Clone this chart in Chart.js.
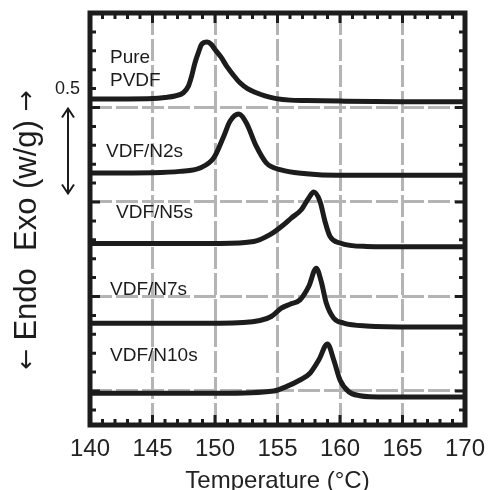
<!DOCTYPE html>
<html>
<head>
<meta charset="utf-8">
<script src="https://cdn.jsdelivr.net/npm/chart.js"></script>
<style>
  html, body { margin: 0; padding: 0; background: #fff; }
</style>
</head>
<body>
<canvas id="dscCanvas" width="488" height="490"></canvas>
<script>
// DSC heating curves, heat flow in W/g (stacked with offsets)
const pvdfTemp = [140, 143, 145, 146, 146.8, 147.47, 147.87, 148.13, 148.4, 148.67, 148.93, 149.38, 149.7, 150.0, 150.5, 150.93, 151.5, 152.0, 152.6, 153.3, 154.0, 154.9, 156, 157.3, 160, 165, 170];
const pvdfFlow = [1.545, 1.545, 1.547, 1.553, 1.561, 1.578, 1.613, 1.666, 1.737, 1.790, 1.834, 1.846, 1.834, 1.807, 1.765, 1.719, 1.669, 1.631, 1.600, 1.578, 1.561, 1.547, 1.539, 1.537, 1.534, 1.531, 1.531];

const n2sTemp = [140, 145, 147.2, 148.8, 149.9, 150.7, 151.2, 151.9, 152.5, 153.3, 154.1, 155.2, 157.3, 159.7, 165, 170];
const n2sFlow = [1.153, 1.155, 1.162, 1.180, 1.233, 1.348, 1.427, 1.465, 1.419, 1.295, 1.207, 1.171, 1.150, 1.141, 1.142, 1.142];

const n5sTemp = [140, 146, 150.4, 153.1, 154.4, 155.5, 156.1, 156.9, 157.5, 157.9, 158.4, 158.8, 159.2, 160.0, 162.1, 166, 170];
const n5sFlow = [0.781, 0.781, 0.781, 0.791, 0.827, 0.880, 0.915, 0.959, 1.021, 1.053, 1.003, 0.897, 0.818, 0.783, 0.765, 0.763, 0.763];

const n7sTemp = [140, 146, 150.4, 153.6, 154.5, 155.3, 156.0, 156.8, 157.5, 158.1, 158.5, 158.9, 159.5, 160.3, 162.1, 166, 170];
const n7sFlow = [0.359, 0.359, 0.359, 0.373, 0.394, 0.438, 0.459, 0.482, 0.553, 0.650, 0.579, 0.465, 0.385, 0.359, 0.344, 0.339, 0.339];

const n10sTemp = [140, 146, 150.4, 154.7, 155.7, 156.8, 157.6, 158.3, 159.0, 159.5, 160.0, 160.7, 161.6, 162.4, 166, 170];
const n10sFlow = [-0.012, -0.012, -0.012, 0.000, 0.023, 0.058, 0.094, 0.164, 0.249, 0.164, 0.058, -0.004, -0.025, -0.030, -0.032, -0.032];

const xTickValues = [140, 145, 150, 155, 160, 165, 170];
const yGridValues = [0, 0.5, 1.0, 1.5];

const sampleLabels = ['Pure', 'PVDF', 'VDF/N2s', 'VDF/N5s', 'VDF/N7s', 'VDF/N10s'];
const labelTemp = [141.6, 141.6, 141.28, 142.08, 141.6, 141.6];
const labelFlow = [1.738, 1.616, 1.240, 0.917, 0.509, 0.159];

function toPoints(t, f) {
  return t.map((v, i) => ({ x: v, y: f[i] }));
}

const ink = '#1c1c1c';
const gridGray = '#b4b4b4';
const sans = '"Liberation Sans", Arial, sans-serif';

// frame, inward ticks, labels and the scale arrow
const decorations = {
  id: 'decorations',
  afterDatasetsDraw(chart) {
    const ctx = chart.ctx;
    const a = chart.chartArea;
    const xs = chart.scales.x;
    const ys = chart.scales.y;
    ctx.save();
    ctx.strokeStyle = ink;
    ctx.lineWidth = 3;
    ctx.beginPath();
    for (let t = 141; t < 170; t++) {
      const px = xs.getPixelForValue(t);
      const len = (t % 5 === 0) ? 10 : 6;
      ctx.moveTo(px, a.bottom); ctx.lineTo(px, a.bottom - len);
      ctx.moveTo(px, a.top); ctx.lineTo(px, a.top + len);
    }
    for (let k = -1; k < 20; k++) {
      const v = k / 10;
      const py = ys.getPixelForValue(v);
      const len = (k % 5 === 0) ? 10 : 6;
      ctx.moveTo(a.left, py); ctx.lineTo(a.left + len, py);
      ctx.moveTo(a.right, py); ctx.lineTo(a.right - len, py);
    }
    ctx.stroke();
    ctx.lineWidth = 5;
    ctx.strokeRect(a.left, a.top, a.right - a.left, a.bottom - a.top);

    ctx.fillStyle = ink;
    ctx.font = '19px ' + sans;
    ctx.textAlign = 'left';
    ctx.textBaseline = 'alphabetic';
    for (let i = 0; i < sampleLabels.length; i++) {
      ctx.fillText(sampleLabels[i], xs.getPixelForValue(labelTemp[i]), ys.getPixelForValue(labelFlow[i]));
    }
    ctx.restore();
  },
  afterDraw(chart) {
    const ctx = chart.ctx;
    const a = chart.chartArea;
    const ys = chart.scales.y;
    ctx.save();
    ctx.fillStyle = ink;
    ctx.strokeStyle = ink;
    // 0.5 W/g scale bar
    const top = ys.getPixelForValue(1.5);
    const bot = ys.getPixelForValue(1.04);
    ctx.font = '18px ' + sans;
    ctx.textAlign = 'right';
    ctx.textBaseline = 'alphabetic';
    ctx.fillText('0.5', a.left - 10, top - 13);
    const ax = a.left - 22;
    ctx.lineWidth = 2;
    ctx.beginPath();
    ctx.moveTo(ax, top + 1); ctx.lineTo(ax, bot - 1);
    ctx.moveTo(ax - 6, top + 10); ctx.lineTo(ax, top + 1); ctx.lineTo(ax + 6, top + 10);
    ctx.moveTo(ax - 6, bot - 10); ctx.lineTo(ax, bot - 1); ctx.lineTo(ax + 6, bot - 10);
    ctx.stroke();
    // y axis title, arrows set in DejaVu for a fuller glyph
    const parts = [
      ['\u2190 ', '25px "DejaVu Sans", sans-serif'],
      ['Endo  Exo (w/g) ', '31px ' + sans],
      ['\u2192', '25px "DejaVu Sans", sans-serif']
    ];
    let total = 0;
    parts.forEach(p => { ctx.font = p[1]; total += ctx.measureText(p[0]).width; });
    ctx.translate(27, 230);
    ctx.rotate(-Math.PI / 2);
    ctx.textAlign = 'left';
    ctx.textBaseline = 'middle';
    let pos = -total / 2;
    parts.forEach(p => {
      ctx.font = p[1];
      ctx.fillText(p[0], pos, 0);
      pos += ctx.measureText(p[0]).width;
    });
    ctx.restore();
  }
};

const series = [
  toPoints(pvdfTemp, pvdfFlow),
  toPoints(n2sTemp, n2sFlow),
  toPoints(n5sTemp, n5sFlow),
  toPoints(n7sTemp, n7sFlow),
  toPoints(n10sTemp, n10sFlow)
];

new Chart(document.getElementById('dscCanvas'), {
  type: 'line',
  data: {
    datasets: series.map(s => ({
      data: s,
      borderColor: ink,
      borderWidth: 5,
      pointRadius: 0,
      fill: false,
      cubicInterpolationMode: 'monotone'
    }))
  },
  options: {
    responsive: false,
    animation: false,
    layout: { padding: { top: 13, right: 23, left: 0, bottom: 0 } },
    plugins: { legend: { display: false }, tooltip: { enabled: false } },
    scales: {
      x: {
        type: 'linear',
        min: 140,
        max: 170,
        afterBuildTicks: s => { s.ticks = xTickValues.map(v => ({ value: v })); },
        afterFit: s => { s.height = 65; s.paddingLeft = 0; s.paddingRight = 0; },
        grid: {
          drawTicks: false,
          lineWidth: 3,
          color: c => (c.tick && c.tick.value > 140 && c.tick.value < 170) ? gridGray : 'rgba(0,0,0,0)'
        },
        border: { display: false, dash: [22, 4] },
        ticks: {
          padding: 10,
          color: '#222',
          font: { family: sans, size: 24 }
        },
        title: {
          display: true,
          text: 'Temperature (\u00b0C)',
          color: '#222',
          padding: { top: 0, bottom: -6 },
          font: { family: sans, size: 24 }
        }
      },
      y: {
        min: -0.18,
        max: 2.0,
        afterBuildTicks: s => { s.ticks = yGridValues.map(v => ({ value: v })); },
        afterFit: s => { s.width = 90; s.paddingTop = 0; s.paddingBottom = 0; },
        grid: { drawTicks: false, lineWidth: 3, color: gridGray },
        border: { display: false, dash: [22, 4] },
        ticks: { display: false }
      }
    }
  },
  plugins: [decorations]
});
</script>
</body>
</html>
